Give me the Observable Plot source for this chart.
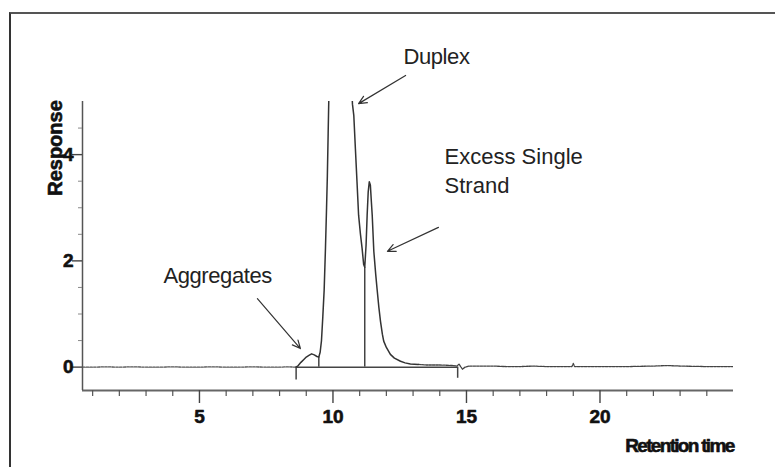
<!DOCTYPE html>
<html>
<head>
<meta charset="utf-8">
<script src="https://cdn.jsdelivr.net/npm/d3@7"></script>
<script src="https://cdn.jsdelivr.net/npm/@observablehq/plot@0.6"></script>
<style>
  html, body { margin: 0; padding: 0; background: #fff; }
  #wrap { position: relative; width: 775px; height: 467px; overflow: hidden; }
  #frame { position: absolute; left: 9px; top: 12px; width: 780px; height: 470px;
           border-left: 2px solid #333; border-top: 2px solid #555; box-sizing: border-box; pointer-events: none; }
  svg { position: absolute; left: 0; top: 0; }
</style>
</head>
<body>
<div id="wrap"><div id="frame"></div></div>
<script>
// ---- data ----
const time = [0.62, 1.0, 1.5, 2.0, 2.5, 3.0, 3.5, 4.0, 4.5, 5.0, 5.5, 6.0, 6.5, 7.0, 7.5, 8.0, 8.3, 8.62,
  8.7, 8.8, 8.9, 9.0, 9.1, 9.2, 9.3, 9.4, 9.47, 9.52, 9.57, 9.62, 9.67, 9.72, 9.76, 9.79, 9.82, 9.85,
  9.9, 10.0, 10.2, 10.4, 10.6, 10.7, 10.73, 10.78, 10.84, 10.9, 10.96, 11.03, 11.09, 11.15, 11.19,
  11.24, 11.28, 11.32, 11.36, 11.4, 11.44, 11.47, 11.53, 11.6, 11.65, 11.72, 11.78, 11.85, 11.9,
  12.0, 12.15, 12.3, 12.53, 12.7, 12.9, 13.2, 13.5, 14.0, 14.5, 14.65, 14.72, 14.78, 14.85, 14.95,
  15.1, 15.5, 16.0, 16.5, 17.0, 17.5, 18.0, 18.5, 18.95, 19.0, 19.05, 20.0, 21.0, 22.0, 22.5, 23.0, 24.0, 25.0];
const response = [0.0, 0.0, 0.005, 0.0, 0.005, 0.0, 0.0, 0.005, 0.0, 0.0, 0.005, 0.0, 0.0, 0.005, 0.0, 0.0, 0.005, 0.0,
  0.03, 0.09, 0.14, 0.19, 0.22, 0.25, 0.23, 0.2, 0.19, 0.28, 0.5, 0.95, 1.45, 2.25, 3.0, 3.6, 4.4, 5.2,
  6.5, 8.0, 9.0, 8.2, 6.5, 5.3, 4.95, 4.74, 4.11, 3.49, 2.86, 2.5, 2.24, 1.93, 1.88,
  2.3, 2.86, 3.3, 3.49, 3.43, 3.1, 2.86, 2.18, 1.75, 1.48, 1.12, 0.86, 0.62, 0.49,
  0.37, 0.24, 0.17, 0.11, 0.08, 0.06, 0.05, 0.04, 0.04, 0.03, 0.02, 0.06, 0.01, -0.04, 0.0,
  0.02, 0.02, 0.02, 0.01, 0.01, 0.02, 0.01, 0.01, 0.01, 0.07, 0.01, 0.01, 0.01, 0.02, 0.03, 0.02, 0.01, 0.01];

const xDomain = [0.62, 25];
const yDomain = [-0.44, 5];
const xMajorTicks = [5, 10, 15, 20];
const xMinorTicks = [1, 2, 3, 4, 6, 7, 8, 9, 11, 12, 13, 14, 16, 17, 18, 19, 21, 22, 23, 24];
const yMajorTicks = [0, 2, 4];
const yMinorTicks = [0.5, 1, 1.5, 2.5, 3, 3.5, 4.5];

// integration baseline and peak drop lines
const baselineSegments = [{y: 0, x1: 8.62, x2: 14.67}];
const dropTimes = [8.62, 9.47, 11.19, 14.67];
const dropLow = [-0.24, 0, 0, -0.21];
const dropHigh = [0, 0.19, 1.88, 0];

// annotations
const annotationLabels = ["Duplex", "Excess Single\nStrand", "Aggregates"];
const annotationX = [12.64, 14.18, 3.65];
const annotationY = [5.70, 3.27, 1.59];
const arrowX1 = [12.72, 13.95, 7.17];
const arrowY1 = [5.49, 2.63, 1.29];
const arrowX2 = [10.96, 12.04, 8.78];
const arrowY2 = [4.96, 2.18, 0.35];

const xLabel = "Retention time";
const yLabel = "Response";

// ---- tables ----
const trace = time.map((t, i) => ({t, r: response[i]}));
const drops = dropTimes.map((t, i) => ({t, y1: dropLow[i], y2: dropHigh[i]}));
const notes = annotationLabels.map((label, i) => ({label, x: annotationX[i], y: annotationY[i]}));
const arrows = arrowX1.map((x1, i) => ({x1, y1: arrowY1[i], x2: arrowX2[i], y2: arrowY2[i]}));

const font = "'Liberation Sans', Arial, sans-serif";
const heavy = {fontWeight: "bold", fill: "#111", stroke: "#111", strokeWidth: 0.6};

const chart = Plot.plot({
  width: 775,
  height: 467,
  marginLeft: 82,
  marginRight: 42,
  marginTop: 101,
  marginBottom: 77,
  style: {fontFamily: font, background: "transparent", overflow: "visible"},
  x: {domain: xDomain},
  y: {domain: yDomain},
  marks: [
    // axes lines
    Plot.ruleY([yDomain[0]], {stroke: "#666", strokeWidth: 2}),
    Plot.ruleX([xDomain[0]], {stroke: "#555", strokeWidth: 1.5}),
    // x axis ticks
    Plot.axisX({ticks: xMinorTicks, tickSize: 6, tickFormat: () => "", label: null, stroke: "#555", strokeWidth: 1.2}),
    Plot.axisX({ticks: xMajorTicks, tickSize: 13, tickFormat: () => "", label: null, stroke: "#444", strokeWidth: 1.4}),
    Plot.text(xMajorTicks, {x: d => d, text: d => String(d), frameAnchor: "bottom", dy: 19, lineAnchor: "top",
      fontSize: 19, ...heavy}),
    // y axis ticks
    Plot.axisY({ticks: yMinorTicks, tickSize: 4, tickFormat: () => "", label: null, stroke: "#888", strokeWidth: 1}),
    Plot.axisY({ticks: yMajorTicks, tickSize: 10, tickFormat: () => "", label: null, stroke: "#444", strokeWidth: 1.4}),
    Plot.text(yMajorTicks, {y: d => d, text: d => String(d), frameAnchor: "left", dx: -9, textAnchor: "end",
      lineAnchor: "middle", fontSize: 19, ...heavy}),
    // axis titles
    Plot.text([xLabel], {frameAnchor: "bottom-right", dy: 61, textAnchor: "end", lineAnchor: "bottom",
      fontSize: 19, ...heavy}),
    Plot.text([yLabel], {frameAnchor: "left", dx: -27, dy: -98, rotate: -90, textAnchor: "middle", lineAnchor: "middle",
      fontSize: 20, ...heavy}),
    // integration baseline and drop lines
    Plot.ruleY(baselineSegments, {y: "y", x1: "x1", x2: "x2", stroke: "#444", strokeWidth: 1.5}),
    Plot.ruleX(drops, {x: "t", y1: "y1", y2: "y2", stroke: "#444", strokeWidth: 1.5}),
    // chromatogram trace (noise regions drawn dotted)
    Plot.line(trace.filter(d => d.t <= 8.62), {x: "t", y: "r", stroke: "#555", strokeWidth: 1.3, strokeDasharray: "2.5,1.2", clip: true}),
    Plot.line(trace.filter(d => d.t >= 13.2), {x: "t", y: "r", stroke: "#444", strokeWidth: 1.3, strokeDasharray: "2.5,1", clip: true}),
    Plot.line(trace.filter(d => d.t >= 8.62 && d.t <= 13.2), {x: "t", y: "r", stroke: "#333", strokeWidth: 1.5, clip: true}),
    // annotations
    Plot.arrow(arrows, {x1: "x1", y1: "y1", x2: "x2", y2: "y2", stroke: "#333", strokeWidth: 1.2, headLength: 11, headAngle: 50, bend: 0}),
    Plot.text(notes, {x: "x", y: "y", text: "label", textAnchor: "start", lineAnchor: "bottom", lineHeight: 1.36,
      fontSize: 22, fill: "#222"})
  ]
});
// typographic tweaks: condensed axis title and tighter annotation text
d3.select(chart).selectAll("text").each(function () {
  const s = this.textContent;
  if (s === xLabel) this.setAttribute("letter-spacing", "-1.7");
  else if (s.length > 2 && annotationLabels.some(l => l.split("\n").includes(s) || l === s))
    this.setAttribute("letter-spacing", "-0.4");
});
document.getElementById("wrap").prepend(chart);
</script>
</body>
</html>
